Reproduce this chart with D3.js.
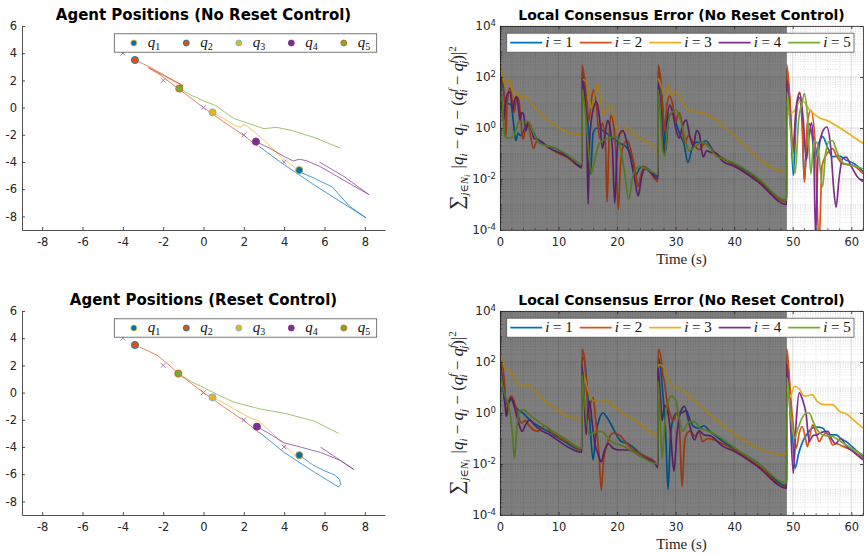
<!DOCTYPE html>
<html>
<head>
<meta charset="utf-8">
<script src="https://cdn.jsdelivr.net/npm/d3@7"></script>
<style>
body { margin: 0; background: #fff; }
</style>
</head>
<body>
<svg id="fig" width="865" height="556" font-family="DejaVu Sans, sans-serif"></svg>
<script>
const colors = ["#0072BD", "#D95319", "#EDB120", "#7E2F8E", "#77AC30"];
const agentLabels = ["1", "2", "3", "4", "5"];

// ---- agent trajectories, no reset control (x, y) ----
const trajNR_q1 = [[2.75,-2.85],[4.0,-4.2],[5.5,-5.7],[8.05,-8.1],[7.2,-7.2],[6.4,-5.85],[5.5,-5.2],[4.8,-4.75],[4.75,-4.6]];
const trajNR_q2 = [[-3.4,3.5],[-2.75,3.05],[-1.0,1.6],[-2.75,2.95],[-2.2,2.45],[-1.25,1.4],[0,0.0],[1,-1.05],[2,-2.05],[2.7,-2.85]];
const trajNR_q3 = [[0.45,-0.35],[1.0,-0.8],[1.6,-1.35],[1.85,-1.45],[1.95,-1.25],[2.1,-1.3],[2.5,-1.75],[3.1,-2.55],[3.9,-3.7],[4.45,-4.3],[4.75,-4.8]];
const trajNR_q4 = [[2.6,-2.5],[3.3,-3.0],[4.0,-3.6],[4.45,-3.92],[4.75,-3.8],[5.1,-3.9],[5.8,-4.35],[6.5,-4.95],[8.2,-6.4],[7.0,-5.1],[5.75,-4.0]];
const trajNR_q5 = [[-1.2,1.4],[-0.6,0.9],[0,0.5],[0.6,0.15],[1.5,-0.8],[2.5,-1.3],[3.0,-1.55],[3.6,-1.45],[4.3,-1.65],[5.5,-2.2],[6.75,-2.96]];

// ---- agent trajectories, reset control ----
const trajR_q1 = [[2.75,-2.9],[4.0,-4.4],[5.5,-5.85],[6.7,-6.95],[6.8,-6.75],[6.75,-6.4],[6.5,-6.05],[6.0,-5.75],[5.4,-5.3],[4.75,-4.6]];
const trajR_q2 = [[-3.4,3.5],[-2.8,3.1],[-2.3,2.75],[-1.8,2.15],[-1.25,1.4],[0,0.0],[1,-1.05],[2,-2.05],[2.75,-2.95]];
const trajR_q3 = [[0.45,-0.35],[1.0,-0.75],[1.5,-1.2],[2.3,-1.85],[2.75,-2.1],[3.2,-2.7],[3.9,-3.7],[4.45,-4.5],[4.75,-4.95]];
const trajR_q4 = [[2.65,-2.5],[3.3,-3.05],[4.0,-3.7],[4.8,-4.0],[5.8,-4.4],[6.8,-5.0],[7.45,-5.65],[6.6,-4.8],[5.8,-4.0]];
const trajR_q5 = [[-1.25,1.4],[-0.6,0.8],[0,0.37],[0.7,-0.15],[1.5,-0.7],[2.8,-1.2],[4.1,-1.55],[5.5,-2.1],[6.7,-3.0]];

// final positions (circle markers) and formation reference points (x markers)
const finalX_NR = [4.75, -3.4, 0.45, 2.6, -1.2];
const finalY_NR = [-4.6, 3.5, -0.35, -2.5, 1.4];
const finalX_R = [4.75, -3.4, 0.45, 2.65, -1.25];
const finalY_R = [-4.6, 3.5, -0.35, -2.5, 1.4];
const refX = [-4, -2, 0, 2, 4];
const refY = [4, 2, 0, -2, -4];

// ---- local consensus error, [time, log10(error)] ----
const errNR_1 = [[0,2.2],[0.5,1.6],[1.0,1.0],[1.5,0.95],[1.9,0.9],[2.3,0.2],[2.7,-0.5],[3.1,-0.2],[3.5,-0.3],[4.2,-0.05],[4.8,0.1],[5.5,-0.1],[6.5,-0.5],[8,-0.7],[10,-0.85],[11.5,-1.1],[13.98,-1.5],
  [14.0,2.2],[14.5,1.6],[15.0,0.3],[15.45,-1.8],[15.9,-0.2],[16.5,0.0],[17.9,-0.15],[19,-0.35],[20.5,-0.6],[21.6,-0.75],[22.7,-1.3],[23.2,-1.85],[23.8,-1.6],[24.4,-1.5],[25.5,-1.65],[26.98,-1.9],
  [27.0,2.2],[27.5,1.6],[28.0,0.0],[28.3,-0.9],[28.8,0.4],[29.5,0.6],[30.2,0.1],[30.8,-0.3],[31.4,-0.6],[32.1,-1.35],[32.8,-0.8],[33.6,-0.55],[34.3,-0.6],[35.2,-0.5],[36.5,-0.95],[38,-1.2],[40,-1.4],[44,-2.0],[48.98,-2.85],
  [49.0,2.26],[49.5,1.0],[50.1,-1.86],[50.6,0.5],[51.1,1.2],[51.6,0.2],[52.0,-2.1],[52.4,-0.4],[52.8,0.17],[53.3,-0.3],[53.8,-1.2],[54.3,-0.7],[55.1,-0.34],[56,-0.8],[56.8,-1.12],[58,-1.1],[59,-1.25],[60.5,-1.4],[62,-1.71]];
const errNR_2 = [[0,2.47],[0.5,1.8],[0.8,0.9],[1.0,-0.3],[1.2,0.9],[1.7,1.56],[2.1,1.1],[2.4,0.6],[2.8,1.1],[3.1,1.2],[3.5,0.5],[3.9,-0.45],[4.3,-0.1],[4.8,0.2],[5.2,-0.3],[5.7,-0.8],[6.2,-0.55],[6.8,-0.5],[7.9,-0.7],[9.6,-0.95],[11.5,-1.15],[13.98,-1.55],
  [14.0,2.47],[14.4,2.0],[14.8,1.0],[15.2,0.3],[15.6,1.1],[16.0,1.5],[16.5,0.8],[17.0,-0.4],[17.5,0.2],[18.0,-0.6],[18.3,-2.9],[18.6,-0.6],[18.9,0.5],[19.4,0.1],[19.8,-1.0],[20.2,-3.2],[20.6,-1.4],[21.2,-0.6],[21.8,-0.5],[22.5,-1.0],[23.2,-1.8],[23.6,-2.3],[24.1,-1.8],[24.7,-1.52],[25.5,-1.7],[26.98,-2.1],
  [27.0,2.47],[27.4,2.0],[27.8,0.8],[28.1,-0.1],[28.5,0.9],[29.0,1.25],[29.5,0.9],[30,0.2],[30.5,0.6],[31,0.3],[31.5,-0.6],[32.2,-0.3],[33,-0.6],[34,-0.85],[35,-0.6],[36,-0.8],[37.5,-1.1],[40,-1.45],[44,-2.05],[48.98,-2.9],
  [49.0,2.46],[49.5,1.2],[50.1,-1.0],[50.6,0.8],[51.2,1.41],[51.6,0.4],[51.98,-2.12],[52.5,0.2],[53.1,0.69],[53.8,-0.5],[54.5,-4.5],[55.0,-1.5],[55.6,-1.1],[56.2,-0.9],[56.8,-0.81],[57.5,-1.1],[58.5,-1.4],[60.2,-1.46],[62,-1.79]];
const errNR_3 = [[0,2.47],[1.0,1.69],[1.5,1.91],[2.5,1.25],[3.1,1.38],[3.7,1.16],[4.4,1.23],[5.1,1.03],[13.98,-0.27],
  [14.0,1.9],[14.6,1.85],[15.2,1.3],[15.6,0.75],[16.1,1.2],[16.7,1.75],[17.2,1.0],[17.6,0.55],[18.2,0.7],[18.8,0.9],[19.5,0.55],[20.2,-0.25],[21.0,-0.15],[21.8,0.05],[22.8,-0.25],[24.0,-0.42],[25.0,-0.5],[26.98,-0.88],
  [27.0,1.95],[27.6,1.6],[28.2,1.2],[28.7,1.7],[29.3,1.3],[30.0,1.42],[30.7,1.18],[31.5,0.9],[32.2,0.7],[32.7,0.64],[33.2,0.65],[48.98,-1.71],
  [49.0,0.51],[50.2,0.64],[51.2,1.03],[51.8,1.03],[52.9,0.7],[54.65,0.39],[55.8,0.3],[58.1,0.0],[60.3,-0.34],[62,-0.6]];
const errNR_4 = [[0,2.0],[0.3,1.2],[0.57,0.31],[0.9,0.9],[1.3,1.35],[1.7,1.42],[2.2,0.7],[2.5,1.1],[2.85,1.23],[3.1,0.9],[3.4,0.31],[3.7,0.6],[4.0,0.55],[4.44,-0.1],[4.8,0.24],[5.2,0.1],[5.8,-0.4],[6.5,-0.45],[7.4,-0.6],[8.5,-0.8],[10,-0.95],[12,-1.2],[13.98,-1.55],
  [14.0,1.9],[14.4,1.4],[14.8,0.0],[15.05,-2.98],[15.3,-0.5],[15.8,0.6],[16.5,1.03],[17.0,0.4],[17.5,-0.8],[17.9,-0.3],[18.4,0.3],[18.8,0.0],[19.2,-0.8],[19.6,-2.95],[20.0,-0.9],[20.5,-0.2],[21.0,-0.1],[21.6,-0.5],[22.3,-1.2],[23.0,-2.0],[23.6,-2.67],[24.2,-1.9],[24.8,-1.6],[25.8,-1.75],[26.98,-2.0],
  [27.0,1.8],[27.4,1.0],[27.8,-0.3],[28.1,-1.06],[28.5,0.2],[29.0,0.9],[29.5,0.6],[30,0.0],[30.6,-0.4],[31.2,0.1],[31.8,0.31],[32.4,-0.3],[33,-0.7],[33.6,-0.1],[34.0,-0.2],[34.7,-1.13],[35.3,-0.9],[36,-0.95],[37,-1.0],[38,-1.3],[40,-1.5],[44,-2.1],[48.98,-3.0],
  [49.0,1.87],[49.5,0.6],[50.0,-0.88],[50.6,0.8],[51.2,1.35],[51.8,0.3],[52.3,-1.27],[52.8,-0.3],[53.2,0.2],[53.6,-1.0],[53.9,-4.3],[54.3,-1.2],[55,-0.2],[55.8,0.04],[56.5,-0.8],[57.0,-2.4],[57.4,-3.1],[57.9,-2.0],[58.5,-1.2],[59.1,-1.14],[60,-1.5],[61,-1.9],[62,-2.1]];
const errNR_5 = [[0,1.75],[0.4,0.9],[0.85,-0.34],[1.7,-0.4],[2.3,-0.35],[2.8,0.0],[3.3,0.25],[3.8,0.2],[4.8,0.25],[5.5,-0.1],[6.8,-0.6],[8,-0.7],[9.6,-0.8],[11.5,-1.05],[13.98,-1.4],
  [14.0,1.5],[14.5,0.8],[15.0,-0.5],[15.6,-1.78],[16.2,-1.2],[17.0,-0.6],[18,-0.45],[19.9,-0.34],[20.6,-0.8],[21.3,-1.8],[22.0,-2.8],[22.6,-2.0],[23.2,-1.6],[23.9,-1.5],[25,-1.6],[26.98,-1.8],
  [27.0,1.5],[27.4,0.5],[27.8,-0.9],[28.1,-1.1],[28.6,0.0],[29.3,0.6],[30.1,0.7],[30.7,0.39],[31.5,-0.3],[32.3,-0.9],[33.2,-0.75],[34.7,-0.55],[35.5,-0.7],[37,-1.1],[38.5,-1.25],[40,-1.37],[44,-1.95],[48.98,-2.85],
  [49.0,1.41],[49.6,0.0],[50.4,-1.79],[51.0,0.3],[51.6,1.0],[52.0,1.35],[52.5,0.5],[53.1,-1.8],[53.6,-0.5],[54.2,-0.6],[55.1,-2.3],[55.6,-1.0],[56.3,-0.5],[56.8,-0.5],[57.5,-0.9],[58.5,-1.35],[59.5,-1.45],[60.8,-1.5],[62,-1.6]];

const errR_1 = [[0,2.0],[0.4,1.3],[0.8,0.46],[1.3,0.35],[1.9,0.53],[2.5,0.3],[3.2,0.1],[3.9,0.0],[5.35,-0.33],[6.5,-0.5],[8.2,-0.72],[11,-1.12],[13.98,-1.45],
  [14.0,2.17],[14.4,2.1],[14.8,1.2],[15.3,-0.2],[15.9,-1.84],[16.4,-0.8],[17.0,-0.2],[17.6,0.0],[18.2,-0.15],[19,-0.46],[20,-0.9],[20.7,-1.12],[21.6,-1.18],[22.5,-1.3],[24,-1.6],[26.4,-1.91],[26.98,-2.05],
  [27.0,2.17],[27.4,1.8],[27.8,0.8],[28.3,-0.8],[28.7,-3.0],[29.1,-1.0],[29.6,-0.2],[30.2,0.0],[31.0,0.0],[31.8,0.1],[32.5,-0.3],[33.2,-0.55],[34,-0.6],[34.8,-0.5],[36,-0.75],[38,-1.1],[40,-1.4],[44,-1.95],[48.98,-2.85],
  [49.0,2.24],[49.5,0.8],[50.0,-1.0],[50.4,-2.17],[51.0,-1.6],[51.7,-1.12],[52.5,-0.8],[53.4,-0.59],[54.2,-0.55],[55.1,-0.59],[56.2,-0.86],[57.4,-0.86],[58.2,-1.0],[59.1,-1.12],[60.5,-1.4],[62,-1.71]];
const errR_2 = [[0,2.5],[0.4,1.9],[0.8,1.12],[1.08,-0.13],[1.4,0.4],[1.94,0.66],[2.5,0.4],[3.0,0.0],[3.64,-0.39],[4.3,-0.3],[5.0,-0.5],[5.8,-0.68],[6.5,-0.72],[7.6,-0.5],[8.5,-0.7],[9.9,-0.92],[12,-1.2],[13.98,-1.45],
  [14.0,2.5],[14.4,2.2],[14.8,0.9],[15.1,-0.2],[15.5,0.4],[15.9,0.59],[16.4,-0.4],[16.9,-1.6],[17.3,-3.03],[17.7,-1.8],[18.2,-1.3],[18.8,-0.9],[19.3,-0.79],[20.4,-0.86],[21.3,-1.1],[22.4,-1.38],[24,-1.6],[26.4,-1.91],[26.98,-2.05],
  [27.0,2.5],[27.4,2.3],[27.8,1.5],[28.1,1.2],[28.5,0.5],[29.0,0.0],[29.6,-0.3],[30.2,0.0],[30.7,-0.8],[31.1,-2.89],[31.5,-1.2],[31.8,-0.86],[32.5,-0.7],[33.2,-0.9],[34.0,-0.75],[34.6,-1.12],[35.5,-1.0],[36.5,-1.05],[38,-1.2],[40,-1.45],[44,-2.05],[48.98,-2.9],
  [49.0,2.5],[49.3,1.8],[49.7,0.46],[50.1,-0.5],[50.6,-1.38],[51.1,-0.8],[51.6,-0.53],[52.1,-0.9],[52.5,-1.32],[53.0,-0.8],[53.4,-0.46],[54.0,-0.8],[54.5,-1.12],[55.1,-0.9],[55.7,-0.79],[56.3,-1.0],[56.8,-1.25],[57.5,-1.2],[58.5,-1.3],[60,-1.45],[62,-1.78]];
const errR_3 = [[0,2.43],[0.8,1.78],[1.65,1.64],[2.4,1.4],[3.07,1.12],[3.5,1.08],[3.93,1.05],[4.78,1.12],[5.9,0.86],[13.98,-0.26],
  [14.0,1.75],[14.5,1.35],[15.3,0.7],[16.0,0.48],[16.7,0.46],[17.5,0.45],[18.2,0.55],[19,0.35],[20.15,0.13],[22.4,-0.2],[24.1,-0.46],[26.98,-0.88],
  [27.0,1.9],[28.1,1.78],[28.6,1.45],[29.8,0.99],[30.5,1.02],[31.2,0.9],[32.05,0.72],[48.98,-1.64],
  [49.0,0.59],[49.6,0.65],[50.3,1.05],[51.1,0.95],[52.0,0.66],[52.6,0.68],[53.3,0.72],[54.2,0.45],[55.4,0.33],[56.8,0.33],[57.96,0.07],[59.4,-0.07],[60.5,-0.3],[62,-0.59]];
const errR_4 = [[0,1.84],[0.5,1.2],[0.8,0.5],[1.08,-0.13],[1.5,0.4],[1.94,0.59],[2.5,0.2],[3.2,-0.4],[3.76,-0.72],[4.4,-0.45],[5.07,-0.26],[5.8,-0.45],[6.8,-0.65],[8.5,-0.85],[11,-1.25],[13.98,-1.54],
  [14.0,1.84],[14.3,1.0],[14.7,-0.86],[15.0,0.0],[15.3,0.46],[15.7,-0.3],[16.2,-1.2],[16.7,-1.58],[17.3,-1.91],[17.8,-1.5],[18.5,-1.2],[19.3,-1.38],[20.5,-1.45],[22,-1.45],[24,-1.7],[26.4,-1.97],[26.98,-2.15],
  [27.0,1.78],[27.3,1.0],[27.7,-0.3],[28.1,0.3],[28.7,0.0],[29.2,-1.0],[29.7,-2.28],[30.2,-0.9],[30.8,0.0],[31.5,0.26],[32.3,-0.4],[33.2,-1.05],[34.0,-0.7],[34.8,-0.85],[36,-0.9],[38,-1.3],[40,-1.5],[44,-2.1],[48.98,-2.95],
  [49.0,1.91],[49.5,0.2],[50.1,-2.37],[50.6,-0.3],[51.1,0.79],[51.7,0.5],[52.3,-0.07],[52.8,-1.12],[53.4,-0.9],[54.2,-0.85],[55.0,-0.75],[56.0,-0.72],[56.6,-1.0],[57.3,-1.2],[58.2,-1.0],[59.0,-1.25],[60.5,-1.55],[62,-1.84]];
const errR_5 = [[0,1.78],[0.6,0.9],[1.65,0.07],[2.1,-0.8],[2.5,-1.78],[2.9,-0.5],[3.5,0.1],[3.93,0.13],[5.35,-0.13],[8.2,-0.59],[11.05,-0.99],[13.98,-1.38],
  [14.0,1.51],[14.3,0.8],[14.7,-0.13],[15.3,-0.86],[16.2,-0.75],[17.3,-0.72],[18.2,-0.9],[19,-1.12],[21.3,-1.32],[23,-1.55],[26.98,-2.0],
  [27.0,1.25],[27.4,-0.5],[27.7,-1.78],[28.2,-0.3],[28.8,0.5],[29.3,0.66],[30.06,0.46],[30.6,-0.2],[31.2,-0.72],[31.9,-0.45],[32.6,-0.33],[33.3,-0.35],[34.2,-0.6],[35.5,-0.7],[37.5,-0.95],[40,-1.35],[44,-1.95],[48.98,-2.75],
  [49.0,1.38],[49.6,0.0],[50.3,-0.99],[50.9,-0.6],[51.6,-0.2],[52.3,0.0],[52.8,0.0],[53.5,-0.35],[54.3,-0.7],[55.1,-0.86],[56.0,-0.9],[56.8,-0.92],[57.8,-1.05],[59.1,-1.25],[60.5,-1.45],[62,-1.64]];

const shadeEnd = 49;           // grey band: controller active period
const posTicks = [-8, -6, -4, -2, 0, 2, 4, 6, 8];
const timeTicks = [0, 10, 20, 30, 40, 50, 60];
const errTickExp = [-4, -2, 0, 2, 4];

const svg = d3.select("#fig");
const axisColor = "#262626";
const mathFont = "Liberation Serif, DejaVu Serif, serif";

function styleAxis(sel) {
  sel.select(".domain").attr("stroke", axisColor).attr("stroke-width", 0.8);
  sel.selectAll(".tick line").attr("stroke", axisColor).attr("stroke-width", 0.8);
  sel.selectAll(".tick text").attr("fill", axisColor).attr("font-size", "11.5px")
    .attr("font-family", "DejaVu Sans, sans-serif");
}

function positionsPanel(top, title, trajs, fx, fy) {
  const left = 22, w = 363, h = 204;
  const g = svg.append("g").attr("transform", `translate(${left},${top})`);
  const x = d3.scaleLinear().domain([-9, 9]).range([0, w]);
  const y = d3.scaleLinear().domain([-9, 6]).range([h, 0]);

  const lineL = d3.line().x(d => x(d[0])).y(d => y(d[1]));

  trajs.forEach((t, i) => {
    g.append("path").attr("d", lineL(t)).attr("fill", "none")
      .attr("stroke", colors[i]).attr("stroke-opacity", 0.7).attr("stroke-width", 1);
  });

  // reference formation points
  g.selectAll(".ref").data(refX).enter().append("path")
    .attr("d", "M-2.3,-2.3L2.3,2.3M-2.3,2.3L2.3,-2.3")
    .attr("transform", (d, i) => `translate(${x(d)},${y(refY[i])})`)
    .attr("stroke", "#9b6aab").attr("stroke-width", 0.9).attr("fill", "none");

  // final positions
  const edge = ["#EDB120", "#0072BD", "#4DBEEE", "#7E2F8E", "#D95319"];
  g.selectAll(".fin").data(fx).enter().append("circle")
    .attr("cx", d => x(d)).attr("cy", (d, i) => y(fy[i])).attr("r", 3.6)
    .attr("fill", (d, i) => colors[i]).attr("stroke", (d, i) => edge[i]).attr("stroke-width", 0.8);

  const ax = g.append("g").attr("transform", `translate(0,${h})`)
    .call(d3.axisBottom(x).tickValues(posTicks).tickSizeInner(-3).tickSizeOuter(0).tickPadding(8));
  ax.selectAll(".tick text").text(d => d < 0 ? "-" + Math.abs(d) : d);
  styleAxis(ax);
  const ay = g.append("g")
    .call(d3.axisLeft(y).tickValues([-8, -6, -4, -2, 0, 2, 4, 6]).tickSizeInner(-3).tickSizeOuter(0).tickPadding(5));
  ay.selectAll(".tick text").text(d => d < 0 ? "-" + Math.abs(d) : d);
  styleAxis(ay);

  // legend
  const lg = g.append("g").attr("transform", `translate(${114.3 - left},7.8)`);
  lg.append("rect").attr("width", 262.4).attr("height", 18.4).attr("fill", "#fff")
    .attr("stroke", "#555").attr("stroke-width", 0.8);
  agentLabels.forEach((lab, i) => {
    const cx = 19.5 + i * 52.5;
    lg.append("circle").attr("cx", cx).attr("cy", 9.2).attr("r", 3)
      .attr("fill", colors[i]).attr("stroke", edge[i]).attr("stroke-width", 0.8);
    const t = lg.append("text").attr("x", cx + 14).attr("y", 13)
      .attr("font-family", mathFont).attr("font-size", "15px").attr("fill", "#111");
    t.append("tspan").attr("font-style", "italic").text("q");
    t.append("tspan").attr("font-size", "10px").attr("dy", 3).text(lab);
  });

  svg.append("text").attr("x", left + w / 2).attr("y", top - 6)
    .attr("text-anchor", "middle").attr("font-weight", "bold").attr("font-size", "15px")
    .attr("fill", "#000").text(title);
}

function errorPanel(top, title, series) {
  const left = 500, w = 363, h = 204;
  const g = svg.append("g").attr("transform", `translate(${left},${top})`);
  const x = d3.scaleLinear().domain([0, 62]).range([0, w]);
  const y = d3.scaleLog().domain([1e-4, 1e4]).range([h, 0]);
  const clipId = "clip" + top;
  g.append("clipPath").attr("id", clipId).append("rect").attr("width", w).attr("height", h);

  g.append("rect").attr("width", w).attr("height", h).attr("fill", "#fff");
  g.append("rect").attr("width", x(shadeEnd)).attr("height", h).attr("fill", "#b5b5b5");

  // minor grid
  const minorY = [];
  for (let k = -4; k < 4; k++) for (let m = 2; m <= 10; m++) {
    const v = m * Math.pow(10, k);
    if (!(m === 10 && (k + 1) % 2 === 0)) minorY.push(v);
  }
  const minorX = d3.range(0, 63, 2).filter(v => v % 10 !== 0);
  const grid = g.append("g").attr("stroke", axisColor).attr("fill", "none");
  grid.selectAll(".my").data(minorY).enter().append("line")
    .attr("x1", 0).attr("x2", w).attr("y1", d => y(d)).attr("y2", d => y(d))
    .attr("stroke-opacity", 0.22).attr("stroke-width", 0.6).attr("stroke-dasharray", "1,1.5");
  grid.selectAll(".mx").data(minorX).enter().append("line")
    .attr("x1", d => x(d)).attr("x2", d => x(d)).attr("y1", 0).attr("y2", h)
    .attr("stroke-opacity", 0.22).attr("stroke-width", 0.6).attr("stroke-dasharray", "1,1.5");
  grid.selectAll(".gy").data(errTickExp).enter().append("line")
    .attr("x1", 0).attr("x2", w).attr("y1", d => y(Math.pow(10, d))).attr("y2", d => y(Math.pow(10, d)))
    .attr("stroke-opacity", 0.18).attr("stroke-width", 0.8);
  grid.selectAll(".gx").data(timeTicks).enter().append("line")
    .attr("x1", d => x(d)).attr("x2", d => x(d)).attr("y1", 0).attr("y2", h)
    .attr("stroke-opacity", 0.18).attr("stroke-width", 0.8);

  const line = d3.line().x(d => x(d[0])).y(d => y(Math.pow(10, d[1]))).curve(d3.curveMonotoneX);
  series.forEach((s, i) => {
    g.append("path").attr("clip-path", `url(#${clipId})`).attr("d", line(s))
      .attr("fill", "none").attr("stroke", colors[i]).attr("stroke-width", 1.7)
      .attr("stroke-linejoin", "round");
  });

  // dark translucent band over the controlled interval
  g.append("rect").attr("width", x(shadeEnd)).attr("height", h).attr("fill", "#000").attr("opacity", 0.3);

  // axes (box with inward ticks)
  const ax = g.append("g").attr("transform", `translate(0,${h})`)
    .call(d3.axisBottom(x).tickValues(timeTicks).tickSizeInner(-3).tickSizeOuter(0).tickPadding(8));
  styleAxis(ax);
  const axT = g.append("g").call(d3.axisTop(x).tickValues(timeTicks).tickSizeInner(-3).tickSizeOuter(0));
  axT.selectAll(".tick text").remove();
  styleAxis(axT);
  const ay = g.append("g")
    .call(d3.axisLeft(y).tickValues(errTickExp.map(e => Math.pow(10, e))).tickSizeInner(-3).tickSizeOuter(0).tickPadding(4));
  styleAxis(ay);
  ay.selectAll(".tick text").attr("font-size", "12px").each(function (d) {
    const e = Math.round(Math.log10(d));
    const t = d3.select(this).text("10");
    t.append("tspan").attr("dy", "-0.55em").attr("font-size", "8.5px").text(e);
  });
  const ayR = g.append("g").attr("transform", `translate(${w},0)`)
    .call(d3.axisRight(y).tickValues(errTickExp.map(e => Math.pow(10, e))).tickSizeInner(-3).tickSizeOuter(0));
  ayR.selectAll(".tick text").remove();
  styleAxis(ayR);
  // minor ticks on left / bottom
  g.selectAll(".mty").data(minorY).enter().append("line")
    .attr("x1", 0).attr("x2", 2).attr("y1", d => y(d)).attr("y2", d => y(d))
    .attr("stroke", axisColor).attr("stroke-width", 0.6);
  g.selectAll(".mtx").data(minorX).enter().append("line")
    .attr("x1", d => x(d)).attr("x2", d => x(d)).attr("y1", h).attr("y2", h - 2)
    .attr("stroke", axisColor).attr("stroke-width", 0.6);

  // legend
  const lg = g.append("g").attr("transform", `translate(6.7,7.2)`);
  lg.append("rect").attr("width", 347.3).attr("height", 19).attr("fill", "#fff")
    .attr("stroke", "#555").attr("stroke-width", 0.8);
  agentLabels.forEach((lab, i) => {
    const x0 = 3.5 + i * 69.5;
    lg.append("line").attr("x1", x0).attr("x2", x0 + 32).attr("y1", 9.5).attr("y2", 9.5)
      .attr("stroke", colors[i]).attr("stroke-width", 1.7);
    const t = lg.append("text").attr("x", x0 + 35).attr("y", 14)
      .attr("font-family", mathFont).attr("font-size", "15px").attr("fill", "#111");
    t.append("tspan").attr("font-style", "italic").text("i");
    t.append("tspan").text(" = " + lab);
  });

  // labels
  svg.append("text").attr("x", left + w / 2).attr("y", top - 6)
    .attr("text-anchor", "middle").attr("font-weight", "bold").attr("font-size", "14px")
    .attr("fill", "#000").text(title);
  svg.append("text").attr("x", left + w / 2).attr("y", top + h + 34)
    .attr("text-anchor", "middle").attr("font-family", mathFont).attr("font-size", "15px")
    .attr("fill", axisColor).text("Time (s)");

  // y label: sum_{j in N_i} |q_i - q_j - (q_i^f - q_j^f)|^2
  const yl = svg.append("text")
    .attr("transform", `translate(${left - 37},${top + h / 2}) rotate(-90)`)
    .attr("text-anchor", "middle").attr("font-family", mathFont).attr("font-size", "16px")
    .attr("fill", axisColor);
  const parts = [
    ["∑", 20, 0, false, 0], ["j∈", 11, 4.5, true, 0], ["N", 11, 4.5, true, 0], ["i", 8, 6.5, true, 0],
    [" |", 17, 0, false, 2], ["q", 17, 0, true, 0], ["i", 11, 3.5, true, 0], [" − ", 17, 0, false, 0],
    ["q", 17, 0, true, 0], ["j", 11, 3.5, true, 0], [" − (", 17, 0, false, 0],
    ["q", 17, 0, true, 0], ["f", 11, -7, true, 0], ["i", 11, 3.5, true, -4], [" − ", 17, 0, false, 0],
    ["q", 17, 0, true, 0], ["f", 11, -7, true, 0], ["j", 11, 3.5, true, -4], [")|", 17, 0, false, 0],
    ["2", 11, -7, false, 0]
  ];
  let prev = 0;
  parts.forEach(p => {
    yl.append("tspan").attr("font-size", p[1] + "px").attr("dy", p[2] - prev).attr("dx", p[4])
      .attr("font-style", p[3] ? "italic" : "normal").text(p[0]);
    prev = p[2];
  });
}

positionsPanel(26, "Agent Positions (No Reset Control)",
  [trajNR_q1, trajNR_q2, trajNR_q3, trajNR_q4, trajNR_q5], finalX_NR, finalY_NR);
positionsPanel(311, "Agent Positions (Reset Control)",
  [trajR_q1, trajR_q2, trajR_q3, trajR_q4, trajR_q5], finalX_R, finalY_R);
errorPanel(26, "Local Consensus Error (No Reset Control)", [errNR_1, errNR_2, errNR_3, errNR_4, errNR_5]);
errorPanel(311, "Local Consensus Error (No Reset Control)", [errR_1, errR_2, errR_3, errR_4, errR_5]);
</script>
</body>
</html>
